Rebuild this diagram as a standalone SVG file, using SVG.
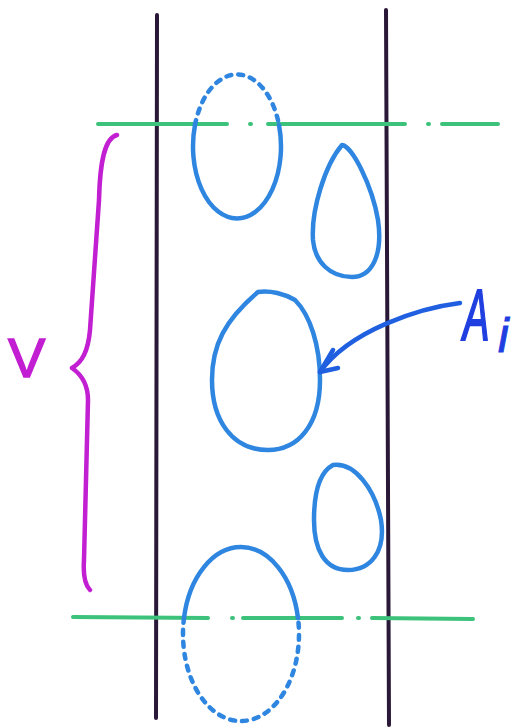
<svg xmlns="http://www.w3.org/2000/svg" width="514" height="727" viewBox="0 0 514 727">
<style>
.wall{stroke:#2a1838;stroke-width:4;fill:none;stroke-linecap:round}
.cut{stroke:#3cc27a;stroke-width:4;fill:none;stroke-linecap:round}
.pore{stroke:#2f86e0;stroke-width:4.5;fill:none;stroke-linecap:round;stroke-linejoin:round}
.dash{stroke-dasharray:5 7}
.arrow{stroke:#1f5fe0;stroke-width:4.5;fill:none;stroke-linecap:round;stroke-linejoin:round}
.brace{stroke:#c21ed2;stroke-width:4.5;fill:none;stroke-linecap:round;stroke-linejoin:round}
.lbl{font-family:"Liberation Sans",Arial,sans-serif}
</style>
<rect width="514" height="727" fill="#ffffff"/>
<g id="walls">
<path class="wall" d="M157,15 L156,718"/>
<path class="wall" d="M386,10 L389,725"/>
</g>
<g id="cut-lines">
<path class="cut" d="M98,124 L227,124 M250,124 L251,124 M268,124 L405,124 M428,124 L429,124 M442,124 L498,124"/>
<path class="cut" d="M73,617 L208,618 M232,618 L233,618 M243,618 L342,618 M358,618 L359,618 M372,618 L473,619"/>
</g>
<g id="pore-top">
<path class="pore" d="M195,125 A44,72 0 1 0 279,125"/>
<path class="pore dash" d="M195,125 A44,72 0 0 1 279,125"/>
</g>
<g id="pore-right-upper">
<path class="pore" d="M342,145 C352,146 372,185 378,220 C383,255 372,277 352,277 C330,277 315,262 313,240 C311,210 325,165 342,145 Z"/>
</g>
<g id="pore-middle">
<path class="pore" d="M258,292 C270,290 285,294 295,300 C310,315 320,345 320,380 C320,425 298,450 268,450 C232,450 212,420 212,380 C212,345 225,320 258,292 Z"/>
</g>
<g id="pore-right-lower">
<path class="pore" d="M333,465 C355,462 375,490 381,520 C386,552 370,570 348,570 C325,570 314,550 314,520 C314,490 320,472 333,465 Z"/>
</g>
<g id="pore-bottom">
<path class="pore" d="M184,618 A58,87 0 0 1 298,618"/>
<path class="pore dash" d="M184,618 A58,87 0 1 0 298,618"/>
</g>
<g id="connectors">
<path class="arrow" d="M460,303 C420,308 350,330 320,372"/>
<path class="arrow" d="M333,350 L320,372 L338,368"/>
</g>
<g id="label-Ai">
<text class="lbl" transform="translate(463,340) scale(0.55,1)" font-size="72" font-style="italic" fill="#1f3fe0" stroke="#1f3fe0" stroke-width="2">A</text>
<text class="lbl" x="498" y="352" font-size="48" font-style="italic" fill="#1f3fe0" stroke="#1f3fe0" stroke-width="1">i</text>
</g>
<g id="brace-V">
<path class="brace" d="M117,135 C105,138 100,160 99,200 L90,330 C88,352 82,362 72,368 C82,375 88,385 88,400 L84,560 C83,575 85,585 90,590"/>
<text class="lbl" x="8" y="377" font-size="56" fill="#c21ed2" stroke="#c21ed2" stroke-width="1.5">V</text>
</g>
</svg>
